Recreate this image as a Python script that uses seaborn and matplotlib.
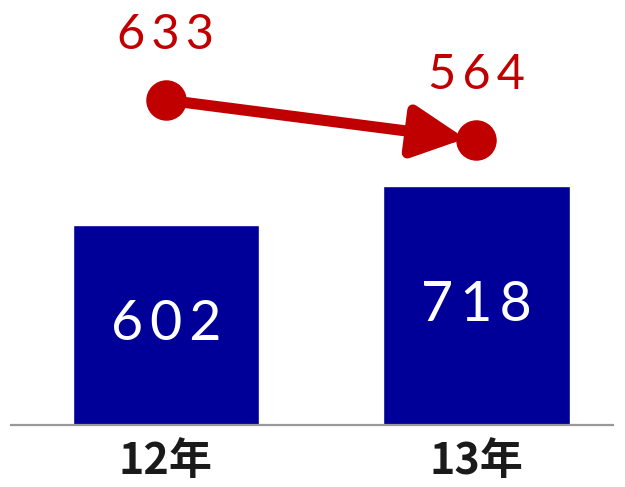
import seaborn as sns
import matplotlib.pyplot as plt
import pandas as pd

# data
years = ['12年', '13年']
bar_values = [602, 718]
line_values = [633, 564]

bar_color = '#000099'
line_color = '#C00000'

sns.set_theme(style='white')
plt.rcParams['font.family'] = ['Noto Sans CJK JP', 'DejaVu Sans']

df = pd.DataFrame({'year': years, 'bar': bar_values, 'line': line_values})

fig = plt.figure(figsize=(6.25, 4.87), dpi=100)
ax = fig.add_axes([11 / 625, 62 / 487, 602 / 625, 425 / 487])

sns.barplot(data=df, x='year', y='bar', color=bar_color, saturation=1,
            width=0.6, ax=ax)

# bar labels in the middle of each bar
for i, v in enumerate(df['bar']):
    ax.text(i, v / 2, '\u2009'.join(str(v)), color='white', fontsize=40,
            ha='center', va='center', family=['Lato', 'DejaVu Sans'])

ax.set_ylim(0, 1279)
ax.set_xlim(-0.499, 1.44)
ax.set_xlabel('')
ax.set_ylabel('')
ax.set_yticks([])
ax.set_xticks(range(len(years)), years, fontsize=31, fontweight='bold',
              color='#1a1a1a')
ax.tick_params(axis='x', length=0, pad=10)
for s in ['top', 'left', 'right']:
    ax.spines[s].set_visible(False)
ax.spines['bottom'].set_color('#999999')
ax.spines['bottom'].set_linewidth(1.6)

# second scale for the red line
ax2 = ax.twinx()
ax2.set_ylim(72.4, 805.5)
ax2.set_yticks([])
for s in ax2.spines.values():
    s.set_visible(False)

ax2.annotate('', xy=(1, df['line'][1]), xytext=(0, df['line'][0]),
             arrowprops=dict(arrowstyle='-|>', color=line_color, lw=8,
                             mutation_scale=78, shrinkA=0, shrinkB=8))
sns.scatterplot(data=df, x=[0, 1], y='line', color=line_color, s=850,
                linewidth=0, ax=ax2, zorder=5)
ax2.set_ylabel('')
ax2.set_xlim(-0.499, 1.44)

for i, v in enumerate(df['line']):
    ax2.annotate('\u2009'.join(str(v)), (i, v), xytext=(0, 47),
                 textcoords='offset points', color=line_color, fontsize=35,
                 ha='center', va='center', family=['Lato', 'DejaVu Sans'])

fig.savefig('out.png', dpi=100)
